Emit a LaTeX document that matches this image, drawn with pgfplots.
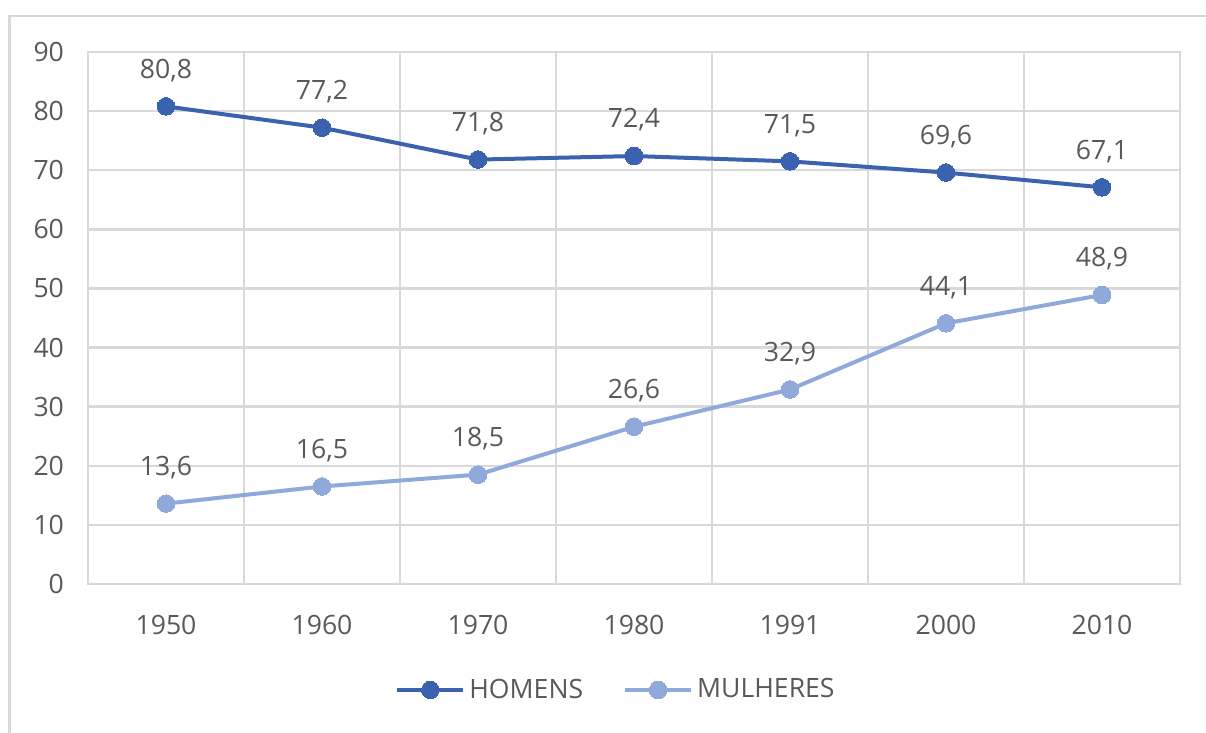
\documentclass[border=0pt]{standalone}
\usepackage{pgfplots}
\pgfplotsset{compat=1.18}
\usepackage{fontspec}
\setmainfont{Open Sans}
\definecolor{txt}{HTML}{595959}
\definecolor{gridc}{HTML}{D9D9D9}
\definecolor{hom}{HTML}{3A62AE}
\definecolor{mul}{HTML}{8FA9DB}
\pgfplotsset{
  /pgfplots/legend image code/.code={%
    \draw[mark repeat=2,mark phase=2,#1] plot coordinates {(0pt,0pt) (16.5pt,0pt) (33pt,0pt)};}
}
\begin{document}
\begin{tikzpicture}
\useasboundingbox (0,0) rectangle (603pt,366.5pt);
\draw[gridc, line width=1.3pt] (4.8pt,0pt) -- (4.8pt,358.5pt) -- (603pt,358.5pt);
\begin{axis}[
  anchor=south west, at={(44pt,74.5pt)},
  scale only axis, width=546pt, height=266pt,
  xmin=-0.5, xmax=6.5, ymin=0, ymax=90,
  ytick={0,10,...,90},
  xtick={0,...,6},
  xticklabels={1950,1960,1970,1980,1991,2000,2010},
  minor xtick={-0.5,0.5,...,6.5},
  xminorgrids=true, ymajorgrids=true,
  grid style={gridc, line width=1.25pt},
  minor grid style={gridc, line width=1.25pt},
  axis line style={gridc, line width=1.25pt},
  major tick length=0pt, minor tick length=0pt,
  tick style={draw=none},
  /pgf/number format/assume math mode=true,
  tick label style={font=\fontsize{13.3}{15}\selectfont, text=txt},
  yticklabel style={xshift=-8.5pt},
  xticklabel style={yshift=-12pt},
  nodes near coords,
  nodes near coords style={font=\fontsize{13.3}{15}\selectfont, text=txt, anchor=south, yshift=9pt,
    /pgf/number format/.cd, use comma, fixed, fixed zerofill, precision=1, assume math mode=true},
  legend style={at={(rel axis cs:0.4844,-0.199)}, anchor=center, draw=none, fill=none,
    font=\fontsize{13.3}{15}\selectfont, text=txt,
    /tikz/every even column/.append style={column sep=18pt}},
  legend columns=2,
]
\addplot[hom, line width=2pt, mark=*, mark size=4.4pt, mark options={fill=hom, draw=hom, line width=0pt}]
  coordinates {(0,80.8) (1,77.2) (2,71.8) (3,72.4) (4,71.5) (5,69.6) (6,67.1)};
\addlegendentry{HOMENS}
\addplot[mul, line width=2pt, mark=*, mark size=4.4pt, mark options={fill=mul, draw=mul, line width=0pt}]
  coordinates {(0,13.6) (1,16.5) (2,18.5) (3,26.6) (4,32.9) (5,44.1) (6,48.9)};
\addlegendentry{MULHERES}
\end{axis}
\end{tikzpicture}
\end{document}
